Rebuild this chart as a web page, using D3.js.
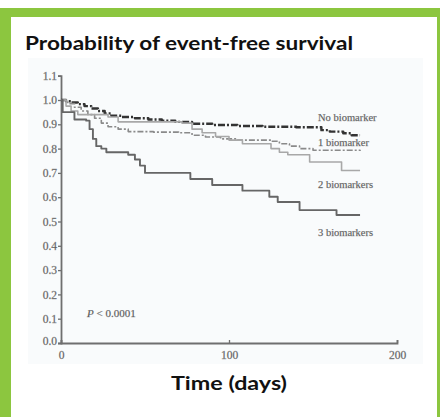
<!DOCTYPE html>
<html><head><meta charset="utf-8">
<script src="https://cdn.jsdelivr.net/npm/d3@7"></script>
<style>html,body{margin:0;padding:0;background:#fff;}svg{display:block;}</style>
</head><body>
<script>
// ---- data ----
const xTicks = [0, 100, 200];
const yTicks = [0, 0.1, 0.2, 0.3, 0.4, 0.5, 0.6, 0.7, 0.8, 0.9, 1.0, 1.1];
const seriesNames = ["No biomarker", "1 biomarker", "2 biomarkers", "3 biomarkers"];
const noBioT = [0, 3, 6, 10, 14, 18, 22, 26, 30, 36, 44, 52, 60, 68, 78, 90, 105, 120, 140, 155, 160, 168, 173, 178];
const noBioS = [1.0, 0.995, 0.99, 0.983, 0.975, 0.965, 0.955, 0.945, 0.935, 0.93, 0.925, 0.92, 0.915, 0.91, 0.902, 0.897, 0.893, 0.89, 0.888, 0.876, 0.87, 0.863, 0.855, 0.855];
const oneBioT = [0, 4, 8, 12, 16, 20, 24, 28, 34, 40, 55, 70, 78, 86, 95, 105, 125, 130, 136, 142, 150, 178];
const oneBioS = [1.0, 0.985, 0.97, 0.955, 0.94, 0.925, 0.905, 0.89, 0.88, 0.87, 0.868, 0.865, 0.855, 0.848, 0.84, 0.835, 0.83, 0.82, 0.81, 0.80, 0.793, 0.79];
const twoBioT = [0, 3, 6, 10, 28, 34, 72, 78, 84, 92, 100, 108, 125, 130, 135, 148, 167, 178];
const twoBioS = [1.0, 0.975, 0.955, 0.94, 0.93, 0.91, 0.905, 0.88, 0.865, 0.85, 0.835, 0.82, 0.80, 0.785, 0.775, 0.745, 0.71, 0.71];
const threeBioT = [0, 1, 8, 15, 17, 19, 21, 24, 27, 40, 44, 47, 50, 77, 90, 108, 124, 129, 142, 164, 178];
const threeBioS = [1.0, 0.95, 0.92, 0.915, 0.88, 0.84, 0.81, 0.80, 0.785, 0.775, 0.755, 0.73, 0.70, 0.675, 0.65, 0.627, 0.602, 0.58, 0.547, 0.527, 0.527];
const labelValues = [0.93, 0.825, 0.655, 0.455];
const pText = "< 0.0001";

const W = 440, H = 417;
const svg = d3.select("body").append("svg").attr("width", W).attr("height", H);

// frame
svg.append("rect").attr("x", 0).attr("y", 8).attr("width", W).attr("height", H - 8).attr("fill", "#8cc63f");
svg.append("rect").attr("x", 11).attr("y", 17).attr("width", 426).attr("height", H - 17).attr("fill", "#ffffff");
svg.append("rect").attr("x", 28).attr("y", 58).attr("width", 395).attr("height", 306).attr("fill", "#f9fbfc");

// title
svg.append("text").attr("x", 25).attr("y", 50)
  .attr("font-family", "Lato, 'DejaVu Sans', sans-serif").attr("font-weight", "bold")
  .attr("font-size", 18).attr("fill", "#111").attr("textLength", 328).attr("lengthAdjust", "spacingAndGlyphs")
  .text("Probability of event-free survival");

const x = d3.scaleLinear().domain([0, 200]).range([61, 397]);
const y = d3.scaleLinear().domain([0, 1.1]).range([343, 343 - 1.1 * 243]);

const axisColor = "#6f6f6f";
const serif = "'Liberation Serif', 'DejaVu Serif', serif";

// y axis
const yAxis = svg.append("g").attr("transform", `translate(${x(0)},0)`)
  .call(d3.axisLeft(y).tickValues(yTicks).tickSize(3).tickPadding(1).tickFormat(d3.format(".1f")));
yAxis.select(".domain").attr("stroke", axisColor).attr("stroke-width", 1.8);
yAxis.selectAll(".tick line").attr("stroke", axisColor).attr("stroke-width", 1.3);
yAxis.selectAll(".tick text")
  .attr("font-family", serif).attr("font-size", 11.5).attr("fill", "#4a4a4a")
  .attr("stroke", "#9a9a9a").attr("stroke-width", 0.3);
yAxis.selectAll(".tick").filter(d => d === 0).select("text").attr("dy", "0.1em");

// x axis
const xAxis = svg.append("g").attr("transform", `translate(0,${y(0)})`)
  .call(d3.axisTop(x).tickValues(xTicks).tickSize(3).tickFormat(d3.format("d")));
xAxis.select(".domain").attr("stroke", axisColor).attr("stroke-width", 1.8);
xAxis.selectAll(".tick line").attr("stroke", axisColor).attr("stroke-width", 1.3);
xAxis.selectAll(".tick text").attr("y", 8).attr("dy", "0.71em")
  .attr("font-family", serif).attr("font-size", 11.5).attr("fill", "#4a4a4a")
  .attr("stroke", "#9a9a9a").attr("stroke-width", 0.3);

// curves
const series = [
  {t: noBioT, s: noBioS, color: "#333333", width: 2.4, dash: "7,2,2,2"},
  {t: oneBioT, s: oneBioS, color: "#8a8a8a", width: 1.6, dash: "6,2,2,2"},
  {t: twoBioT, s: twoBioS, color: "#a8a8a8", width: 1.6, dash: null},
  {t: threeBioT, s: threeBioS, color: "#666666", width: 1.9, dash: null}
];
const line = d3.line().x(d => x(d[0])).y(d => y(d[1])).curve(d3.curveStepAfter);
series.forEach(sr => {
  const pts = sr.t.map((t, i) => [t, sr.s[i]]);
  const p = svg.append("path").attr("d", line(pts)).attr("fill", "none")
    .attr("stroke", sr.color).attr("stroke-width", sr.width).attr("stroke-linejoin", "round");
  if (sr.dash) p.attr("stroke-dasharray", sr.dash);
});

// series labels
seriesNames.forEach((n, i) => {
  svg.append("text").attr("x", 318).attr("y", y(labelValues[i])).attr("dy", "0.35em")
    .attr("font-family", serif).attr("font-size", 10.5).attr("fill", "#444")
    .attr("stroke", "#999").attr("stroke-width", 0.25).text(n);
});

// P value
const pt = svg.append("text").attr("x", 87).attr("y", 313).attr("dy", "0.35em")
  .attr("font-family", serif).attr("font-size", 11).attr("fill", "#444")
  .attr("stroke", "#999").attr("stroke-width", 0.25);
pt.append("tspan").attr("font-style", "italic").text("P");
pt.append("tspan").text(" " + pText);

// x title
svg.append("text").attr("x", 229).attr("y", 390).attr("text-anchor", "middle")
  .attr("font-family", "Lato, 'DejaVu Sans', sans-serif").attr("font-weight", "bold")
  .attr("font-size", 18).attr("fill", "#111").attr("textLength", 116).attr("lengthAdjust", "spacingAndGlyphs")
  .text("Time (days)");
</script>
</body></html>
